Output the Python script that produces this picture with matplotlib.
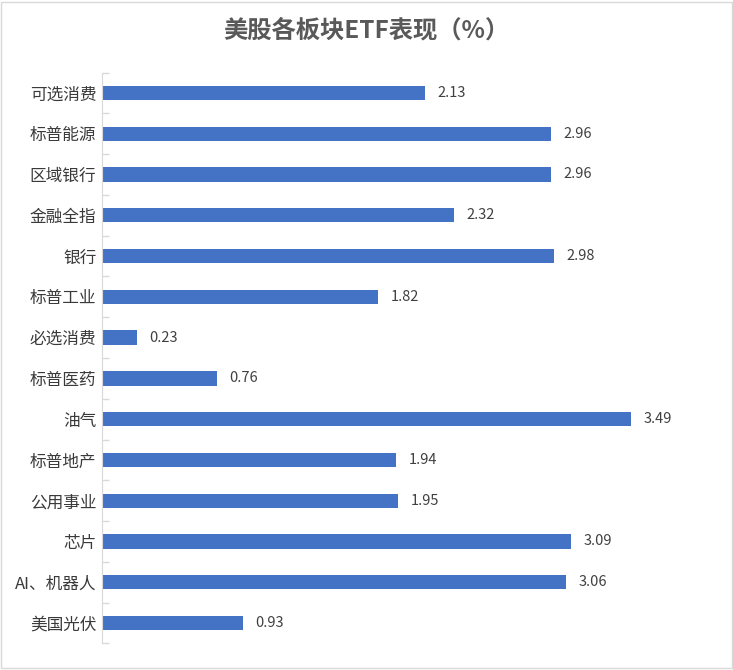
import numpy as np
import matplotlib.pyplot as plt
from matplotlib.patches import Rectangle

plt.rcParams['font.family'] = ['Noto Sans CJK SC', 'DejaVu Sans']

# 数据（从上到下）
sectors = ["可选消费", "标普能源", "区域银行", "金融全指", "银行", "标普工业", "必选消费",
           "标普医药", "油气", "标普地产", "公用事业", "芯片", "AI、机器人", "美国光伏"]
values = [2.13, 2.96, 2.96, 2.32, 2.98, 1.82, 0.23, 0.76, 3.49, 1.94, 1.95, 3.09, 3.06, 0.93]

fig = plt.figure(figsize=(7.33, 6.7), dpi=100)
ax = fig.add_axes([0.139, 0.0397, 0.828, 0.852])

y = np.arange(len(sectors))
ax.barh(y, values, height=0.35, color="#4472C4")
ax.set_ylim(len(sectors) - 0.5, -0.5)
ax.set_xlim(0, 4)

for yi, v in zip(y, values):
    ax.annotate(f"{v:.2f}", (v, yi), xytext=(9, 0), textcoords="offset points",
                va="center", ha="left", fontsize=10.5, color="#404040")

ax.set_yticks(y)
ax.set_yticklabels(sectors, fontsize=12, color="#3A3A3A", fontweight="medium")
ax.set_yticks(np.arange(-0.5, len(sectors)), minor=True)
ax.tick_params(axis="y", which="major", length=0, pad=4)
ax.tick_params(axis="y", which="minor", direction="in", length=5, color="#D9D9D9", width=1)
ax.set_xticks([])

for s in ["top", "right", "bottom"]:
    ax.spines[s].set_visible(False)
ax.spines["left"].set_color("#D9D9D9")

fig.text(0.5, 0.955, "美股各板块ETF表现（%）", ha="center", va="center",
         fontsize=17.5, fontweight="bold", color="#595959")

# 外边框
fig.patches.append(Rectangle((0.002, 0.003), 0.996, 0.994, transform=fig.transFigure,
                             fill=False, edgecolor="#D9D9D9", linewidth=1))

fig.savefig("out.png", dpi=100)
